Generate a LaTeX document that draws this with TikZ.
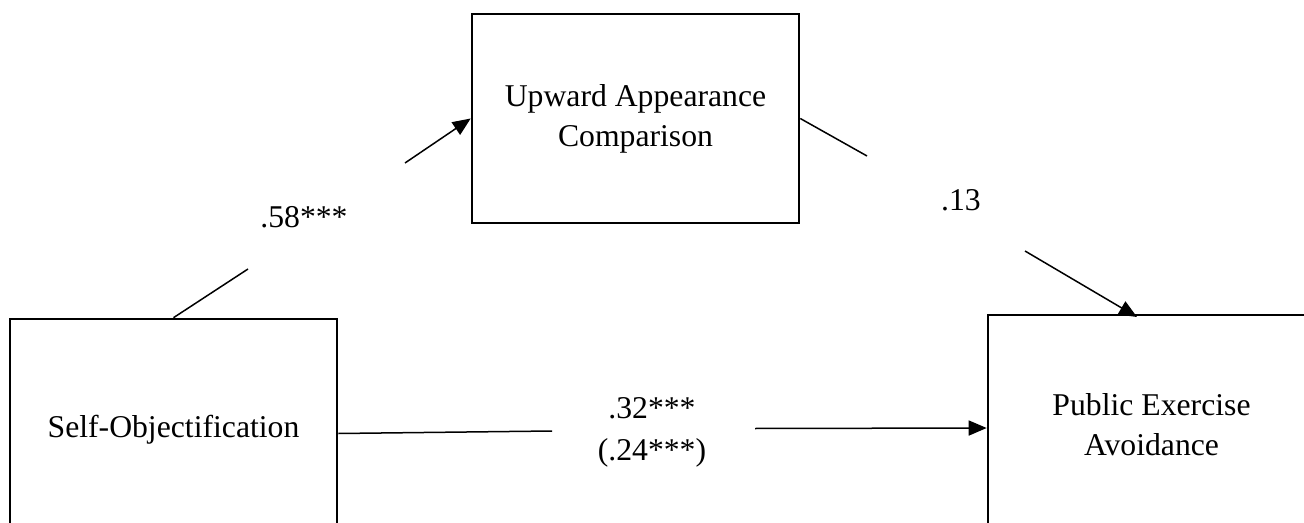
\documentclass[tikz,border=0pt]{standalone}
\usepackage{fontspec}
\setmainfont{Liberation Serif}
\usetikzlibrary{arrows.meta}

\begin{document}
\begin{tikzpicture}[x=0.5pt,y=-0.5pt,
  varbox/.style={draw,line width=1.3pt,minimum width=163.5pt,inner sep=0pt,
    align=center,font=\fontsize{15.85}{20}\selectfont},
  pathlabel/.style={align=center,inner sep=0pt,font=\fontsize{15.85}{21}\selectfont},
  pathline/.style={line width=0.75pt},
  patharrow/.style={pathline,-{Triangle[length=9pt,width=7.5pt]}}]
  \useasboundingbox (0,0) rectangle (1304,523);
  \clip (0,0) rectangle (1304,523);
  % variables
  \node[varbox,minimum height=104.5pt] (uac) at (635.5,118.5) {Upward Appearance\\Comparison};
  \node[varbox,minimum height=110.5pt] (so) at (173.5,429.5) {Self-Objectification};
  \node[varbox,minimum height=110pt] (pea) at (1151.5,425) {Public Exercise\\Avoidance};
  % path coefficients
  \node[pathlabel] (l58) at (304,217) {.58***};
  \node[pathlabel] (l13) at (961,200) {.13};
  \node[pathlabel] (l32) at (652,432) {.32***\\(.24***)};
  % gaps around the labels
  \coordinate (g1a) at (248,269);
  \coordinate (g1b) at (405,163);
  \coordinate (g2a) at (867,156);
  \coordinate (g2b) at (1025,251);
  \coordinate (g3a) at (552,431);
  \coordinate (g3b) at (755,428.5);
  \coordinate (pea-top) at (1137,317);
  % a path
  \draw[pathline] (so.north) -- (g1a);
  \draw[patharrow] (g1b) -- (uac.west);
  % b path
  \draw[pathline] (uac.east) -- (g2a);
  \draw[patharrow] (g2b) -- (pea-top);
  % c path
  \draw[pathline] ([yshift=-2pt]so.east) -- (g3a);
  \draw[patharrow] (g3b) -- ([yshift=-1.5pt]pea.west);
\end{tikzpicture}
\end{document}
